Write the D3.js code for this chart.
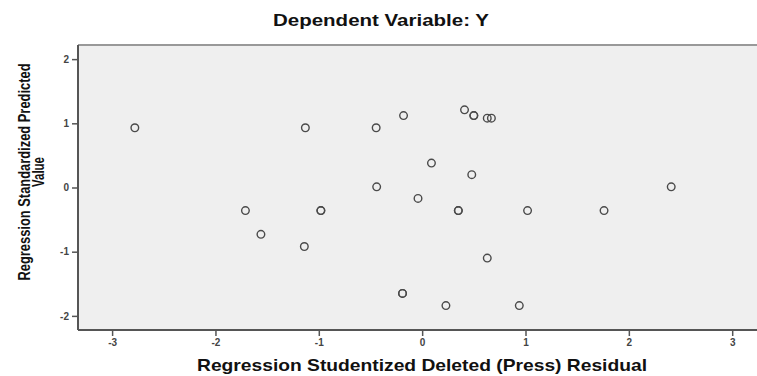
<!DOCTYPE html>
<html>
<head>
<meta charset="utf-8">
<script src="https://cdn.jsdelivr.net/npm/d3@7"></script>
<style>
  body { margin: 0; background: #fff; }
  text { font-family: Arial, "Liberation Sans", sans-serif; }
</style>
</head>
<body>
<svg id="chart" width="757" height="376"></svg>
<script>
// studentized deleted residual (x) vs standardized predicted value (y)
const residuals = [-2.78, -1.13, -0.445, -0.44, -0.18, 0.41, 0.50, 0.50, 0.63, 0.67,
                   0.09, 0.48, 2.41, -1.71, -1.56, -0.98, -0.98, -1.14, -0.19, -0.19,
                   -0.04, 0.35, 0.35, 1.02, 1.76, 0.63, 0.23, 0.94]
const predicted = [0.93, 0.93, 0.93, 0.01, 1.12, 1.21, 1.12, 1.12, 1.08, 1.08,
                   0.38, 0.20, 0.01, -0.36, -0.73, -0.36, -0.36, -0.92, -1.65, -1.65,
                   -0.17, -0.36, -0.36, -0.36, -0.36, -1.10, -1.84, -1.84]
const xTicks = [-3, -2, -1, 0, 1, 2, 3]
const yTicks = [-2, -1, 0, 1, 2]

const svg = d3.select('#chart')
const plotL = 78, plotT = 45, plotR = 757, plotB = 330

const x = d3.scaleLinear().domain([-3.33, 3.24]).range([plotL, plotR])
const y = d3.scaleLinear().domain([-2.22, 2.22]).range([plotB, plotT])

// plot background
svg.append('rect')
    .attr('x', plotL).attr('y', plotT)
    .attr('width', plotR - plotL).attr('height', plotB - plotT)
    .attr('fill', '#efefef')

svg.append('line')
    .attr('x1', plotL).attr('x2', plotR).attr('y1', plotT).attr('y2', plotT)
    .attr('stroke', '#999').attr('stroke-width', 2)

// plain hyphen minus like the original
const fmt = d => String(d)

const xAxis = svg.append('g')
    .attr('transform', `translate(0, ${plotB})`)
    .call(d3.axisBottom(x).tickValues(xTicks).tickSize(6).tickPadding(3).tickFormat(fmt))
const yAxis = svg.append('g')
    .attr('transform', `translate(${plotL}, 0)`)
    .call(d3.axisLeft(y).tickValues(yTicks).tickSize(6).tickPadding(3).tickFormat(fmt))

;[xAxis, yAxis].forEach(ax => {
    ax.select('.domain').attr('stroke', '#555').attr('stroke-width', 2)
    ax.selectAll('.tick line').attr('stroke', '#555').attr('stroke-width', 1.5)
    ax.selectAll('.tick text')
        .attr('fill', '#444')
        .style('font-size', '10px')
        .style('font-weight', 'bold')
        .style('font-family', 'Arial, "Liberation Sans", sans-serif')
})
xAxis.select('.domain').attr('d', `M${plotL},0H${plotR}`)
yAxis.select('.domain').attr('d', `M0,${plotT}V${plotB}`)

// points
const pts = residuals.map((r, i) => ({r: r, p: predicted[i]}))
svg.append('g').selectAll('circle')
    .data(pts).enter().append('circle')
    .attr('cx', d => x(d.r))
    .attr('cy', d => y(d.p))
    .attr('r', 3.8)
    .attr('fill', 'none')
    .attr('stroke', '#4a4a4a')
    .attr('stroke-width', 1.4)

// titles
svg.append('text')
    .attr('x', 381).attr('y', 26)
    .attr('text-anchor', 'middle')
    .attr('textLength', 216).attr('lengthAdjust', 'spacingAndGlyphs')
    .style('font-size', '16px').style('font-weight', 'bold')
    .attr('fill', '#111')
    .text('Dependent Variable: Y')

svg.append('text')
    .attr('x', 422).attr('y', 371)
    .attr('text-anchor', 'middle')
    .attr('textLength', 450).attr('lengthAdjust', 'spacingAndGlyphs')
    .style('font-size', '17px').style('font-weight', 'bold')
    .attr('fill', '#111')
    .text('Regression Studentized Deleted (Press) Residual')

const yl = svg.append('g').attr('transform', 'translate(0, 172) rotate(-90)')
yl.append('text')
    .attr('x', 0).attr('y', 30)
    .attr('text-anchor', 'middle')
    .attr('textLength', 217).attr('lengthAdjust', 'spacingAndGlyphs')
    .style('font-size', '16.5px').style('font-weight', 'bold')
    .attr('fill', '#111')
    .text('Regression Standardized Predicted')
yl.append('text')
    .attr('x', 0).attr('y', 44)
    .attr('text-anchor', 'middle')
    .attr('textLength', 30).attr('lengthAdjust', 'spacingAndGlyphs')
    .style('font-size', '16.5px').style('font-weight', 'bold')
    .attr('fill', '#111')
    .text('Value')
</script>
</body>
</html>
